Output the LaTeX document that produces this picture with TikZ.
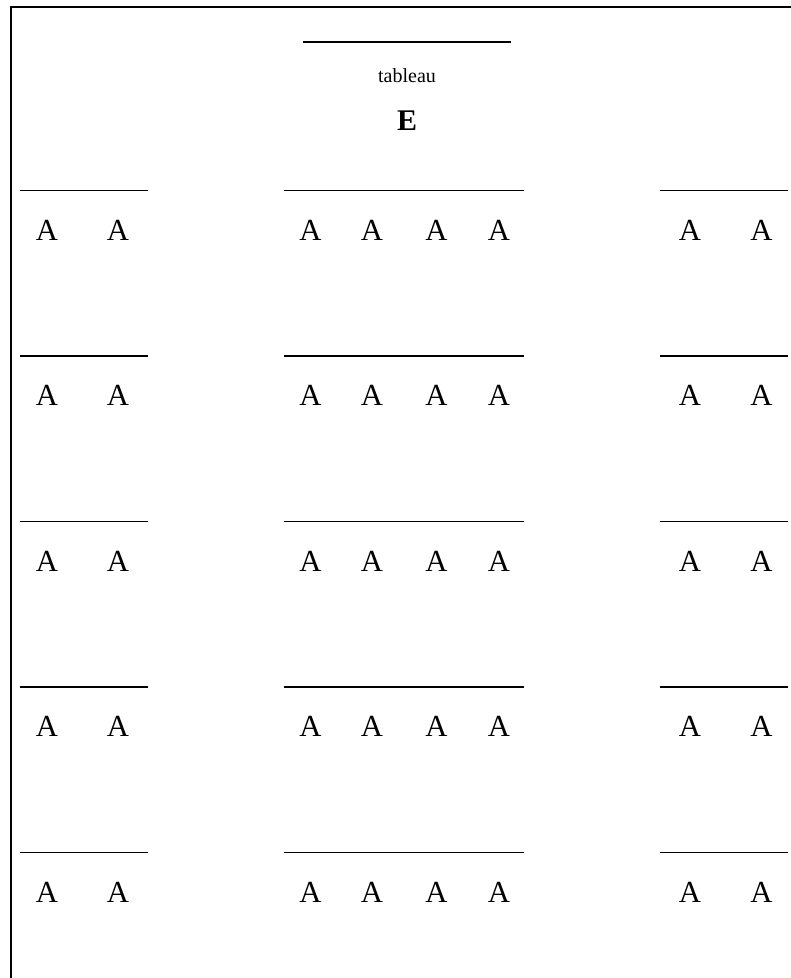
\documentclass[tikz,border=0pt]{standalone}
\usepackage{fontspec}
\setmainfont{Liberation Serif}
\usetikzlibrary{positioning}

\begin{document}
\begin{tikzpicture}[
    x=0.75pt, y=-0.75pt,
    cell/.style={anchor=base, inner sep=0pt, font=\fontsize{23}{23}\selectfont},
    caption/.style={anchor=base, inner sep=0pt, font=\fontsize{15}{15}\selectfont},
    rule/.style={line width=1.1pt},
    frame/.style={line width=1.6pt}
]
\useasboundingbox (0,0) rectangle (791,978);
% open frame: top and left only
\draw[frame] (11,978) -- (11,7) -- (791,7);

% heading
\draw[rule] (303,42) -- (511,42);
\node[caption] (title) at (407,82) {tableau};
\node[cell, font=\fontsize{22.5}{22.5}\selectfont\bfseries] (head) at (407,130) {E};

% five rows of cells
\foreach \r in {1,...,5}{
  \pgfmathsetmacro{\ly}{190.5+165.5*(\r-1)}
  \pgfmathsetmacro{\by}{240+165.5*(\r-1)}
  \draw[rule] (20,\ly) -- (148,\ly);
  \draw[rule] (284,\ly) -- (524,\ly);
  \draw[rule] (660,\ly) -- (788,\ly);
  \foreach \x [count=\i] in {47,118,310.5,372,436.5,499,690,761.5}
    \node[cell] (a\r-\i) at (\x,\by) {A};
}
\end{tikzpicture}
\end{document}
